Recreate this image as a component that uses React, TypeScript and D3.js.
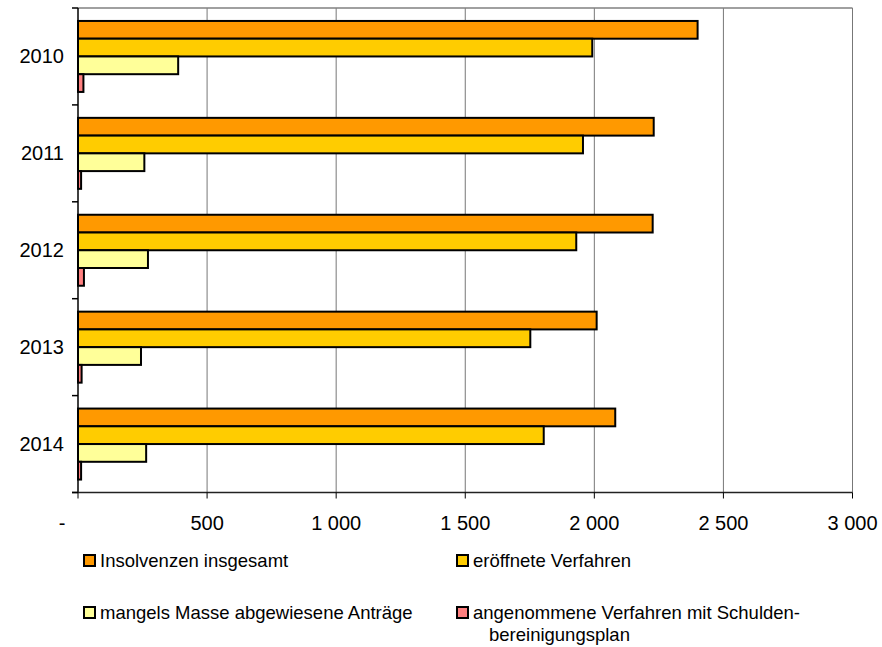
import React from "react";
import * as d3 from "d3";

const years = ["2010", "2011", "2012", "2013", "2014"];
const seriesNames = [
  "Insolvenzen insgesamt",
  "eröffnete Verfahren",
  "mangels Masse abgewiesene Anträge",
  "angenommene Verfahren mit Schulden-bereinigungsplan",
];
const seriesColors = ["#FF9900", "#FFCC00", "#FFFF99", "#FF8080"];
const insgesamt = [2400, 2230, 2226, 2009, 2081];
const eroeffnet = [1992, 1956, 1930, 1752, 1804];
const mangels = [388, 257, 271, 244, 264];
const angenommen = [21, 12, 23, 14, 12];
const xTicks = [0, 500, 1000, 1500, 2000, 2500, 3000];
const xTickLabels = ["-", "500", "1 000", "1 500", "2 000", "2 500", "3 000"];

const W = 882;
const H = 647;
const L = 78, R = 852.5, T = 8, B = 492.5;
const FONT = "'Liberation Sans', Arial, sans-serif";

export default function App() {
  const values = [insgesamt, eroeffnet, mangels, angenommen];
  const x = d3.scaleLinear().domain([0, 3000]).range([L, R]);
  const y = d3.scaleBand<string>().domain(years).range([T, B]).padding(0);
  const inner = d3
    .scaleBand<number>()
    .domain([0, 1, 2, 3])
    .range([0, y.bandwidth()])
    .paddingInner(0)
    .paddingOuter(0.73);

  const yTickPos = [...years.map((yr) => y(yr)!), B];

  const legendItems = [
    { i: 0, sx: 84, sy: 555, lines: ["Insolvenzen insgesamt"] },
    { i: 1, sx: 457, sy: 555, lines: ["eröffnete Verfahren"] },
    { i: 2, sx: 84, sy: 607, lines: ["mangels Masse abgewiesene Anträge"] },
    { i: 3, sx: 457, sy: 607, lines: ["angenommene Verfahren mit Schulden-", "bereinigungsplan"] },
  ];

  return (
    <svg
      width={W}
      height={H}
      style={{ position: "absolute", left: 0, top: 0, background: "#fff" }}
      fontFamily={FONT}
    >
      <rect x={0} y={0} width={W} height={H} fill="#fff" />
      {xTicks.slice(1).map((t) => (
        <line key={"g" + t} x1={x(t)} x2={x(t)} y1={T} y2={B} stroke="#777" strokeWidth={1} />
      ))}
      <line x1={L} x2={R} y1={T} y2={T} stroke="#808080" strokeWidth={1.5} />
      {years.map((yr, yi) =>
        values.map((vals, si) => (
          <rect
            key={yr + "-" + si}
            x={x(0)}
            y={y(yr)! + inner(si)!}
            width={x(vals[yi]) - x(0)}
            height={inner.bandwidth()}
            fill={seriesColors[si]}
            stroke="#000"
            strokeWidth={2}
          />
        ))
      )}
      <line x1={L} x2={L} y1={T} y2={B} stroke="#000" strokeWidth={1.5} />
      <line x1={L - 6} x2={R} y1={B} y2={B} stroke="#222" strokeWidth={1.5} />
      {yTickPos.map((p, i) => (
        <line key={"yt" + i} x1={L - 6} x2={L} y1={p} y2={p} stroke="#000" strokeWidth={1.5} />
      ))}
      {xTicks.map((t) => (
        <line key={"xt" + t} x1={x(t)} x2={x(t)} y1={B} y2={B + 6} stroke="#000" strokeWidth={1} />
      ))}
      {years.map((yr) => (
        <text
          key={"yl" + yr}
          x={64}
          y={y(yr)! + y.bandwidth() / 2}
          textAnchor="end"
          dominantBaseline="central"
          fontSize={20}
          fill="#000"
        >
          {yr}
        </text>
      ))}
      {xTicks.map((t, i) => (
        <text
          key={"xl" + t}
          x={i === 0 ? 62 : x(t)}
          y={530}
          textAnchor="middle"
          fontSize={20}
          fill="#000"
        >
          {xTickLabels[i]}
        </text>
      ))}
      {legendItems.map((it) => (
        <g key={"lg" + it.i}>
          <rect
            x={it.sx}
            y={it.sy}
            width={11}
            height={11}
            fill={seriesColors[it.i]}
            stroke="#000"
            strokeWidth={2}
          />
          {it.lines.map((ln, li) => (
            <text
              key={li}
              x={it.sx + 16 + (li > 0 ? 16 : 0)}
              y={it.sy + 12 + li * 22}
              fontSize={18.5}
              fill="#000"
            >
              {ln}
            </text>
          ))}
        </g>
      ))}
    </svg>
  );
}
